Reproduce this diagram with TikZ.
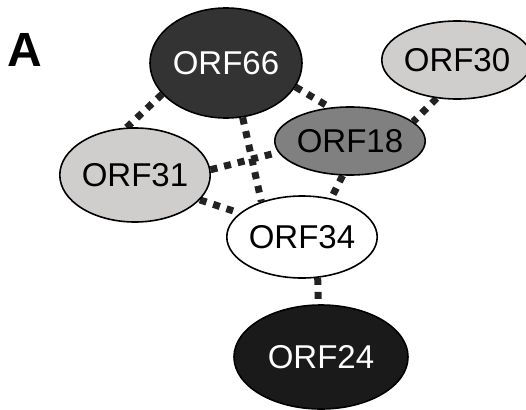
\documentclass[tikz,border=0pt]{standalone}
\usepackage{fontspec}
\setmainfont{Liberation Sans}
\usetikzlibrary{shapes.geometric}
\pgfdeclarelayer{bg}
\pgfsetlayers{bg,main}
\definecolor{cdark}{HTML}{333333}
\definecolor{cblack}{HTML}{1A1A1A}
\definecolor{cmid}{HTML}{808080}
\definecolor{clight}{HTML}{D0CDCD}
\definecolor{cedge}{HTML}{222222}
\tikzset{
  orf/.style={ellipse, draw=black, line width=1.6pt, inner sep=0pt,
    font=\fontsize{33}{33}\selectfont},
  link/.style={draw=cedge, line width=7pt, dash pattern=on 7pt off 7pt}
}
\begin{document}
\begin{tikzpicture}[x=1pt,y=-1pt]
\useasboundingbox (0,0) rectangle (526,409);
\node[font=\fontsize{48}{48}\selectfont\bfseries] (lab) at (25,49.5) {A};
\node[orf, fill=cdark, text=white, minimum width=152pt, minimum height=110pt] (o66) at (226,63) {ORF66};
\node[orf, fill=clight, minimum width=128pt, minimum height=78pt] (o30) at (457,60) {ORF30};
\node[orf, fill=cmid, minimum width=150pt, minimum height=68pt] (o18) at (350,141) {ORF18};
\node[orf, fill=clight, minimum width=150pt, minimum height=94pt] (o31) at (135,175) {ORF31};
\node[orf, fill=white, minimum width=150pt, minimum height=82pt] (o34) at (302,237) {ORF34};
\node[orf, fill=cblack, text=white, minimum width=174pt, minimum height=104pt] (o24) at (321,357) {ORF24};
\begin{pgfonlayer}{bg}
\draw[link] (o66.-154) -- (o31.100);
\draw[link] (o66.-19) -- (o18.121);
\draw[link] (o66.-73) -- (o34.139);
\draw[link] (o30.-118) -- (o18.17);
\draw[link] (o31.4) -- (o18.-171);
\draw[link] (o31.-21) -- (o34.159);
\draw[link] (o18.-102) -- (o34.53);
\draw[link] (o34.-69) -- (o24.93);
\end{pgfonlayer}
\end{tikzpicture}
\end{document}
